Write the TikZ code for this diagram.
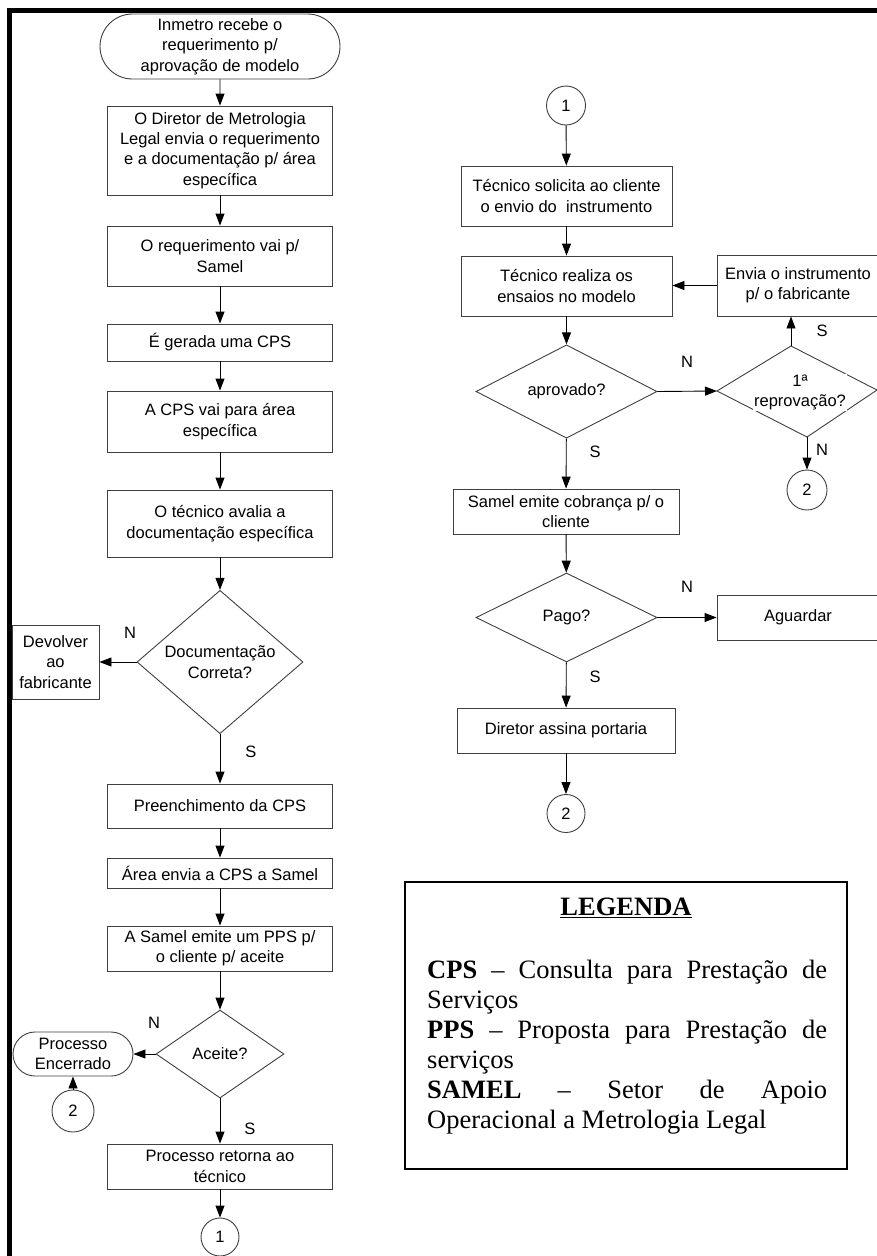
\documentclass[tikz,border=0pt]{standalone}
\usepackage{fontspec}
\setmainfont{Liberation Serif}
\newfontfamily\arialf{Liberation Sans}
\usetikzlibrary{shapes.geometric,shapes.misc,arrows.meta}
\hbadness=10000
\begin{document}
\begin{tikzpicture}[x=1pt,y=-1pt,
  every node/.style={font=\arialf\fontsize{16.5}{20.4}\selectfont},
  box/.style={draw=black!75, line width=0.9pt, inner sep=0pt, align=center, minimum width=225pt},
  term/.style={draw=black!75, line width=0.9pt, rounded rectangle, inner sep=0pt, align=center},
  dec/.style={draw=black!75, line width=0.9pt, diamond, inner sep=0pt, align=center},
  conn/.style={draw=black!75, line width=0.9pt, circle, inner sep=0pt},
  arr/.style={line width=0.9pt, -{Triangle[length=12pt,width=9pt]}},
  lbl/.style={inner sep=0pt}
]
\useasboundingbox (0,0) rectangle (877,1256);
\fill[white] (0,0) rectangle (877,1256);
\draw[line width=4.5pt] (9.5,1260) -- (9.5,10.5) -- (880,10.5);

% ---------- left column ----------
\node[term, minimum width=240pt, minimum height=65pt] (start) at (220,46.5) {Inmetro recebe o\\requerimento p/\\aprovação de modelo};
\node[box, minimum height=89pt] (b2) at (220,150.5) {O Diretor de Metrologia\\Legal envia o requerimento\\e a documentação p/ área\\específica};
\node[box, minimum height=60pt] (b3) at (220,256) {O requerimento vai p/\\Samel};
\node[box, minimum height=37pt] (b4) at (220,342.5) {É gerada uma CPS};
\node[box, minimum height=61pt] (b5) at (220,421.5) {A CPS vai para área\\específica};
\node[box, minimum height=67pt] (b6) at (220,523.5) {O técnico avalia a\\documentação específica};
\node[dec, minimum width=166pt, minimum height=134pt] (d1) at (220,662) {Documentação\\Correta?};
\node[box, minimum width=87pt, minimum height=74pt] (dev) at (55.5,662) {Devolver\\ao\\fabricante};
\node[box, minimum height=44pt] (b7) at (220,806) {Preenchimento da CPS};
\node[box, minimum height=30pt] (b8) at (220,873) {Área envia a CPS a Samel};
\node[box, minimum height=45pt] (b9) at (220,948.5) {A Samel emite um PPS p/\\o cliente p/ aceite};
\node[dec, minimum width=128pt, minimum height=88pt] (d2) at (220,1054) {Aceite?};
\node[term, minimum width=120pt, minimum height=44pt] (enc) at (73,1054) {Processo\\Encerrado};
\node[conn, minimum size=42pt] (c2L) at (73,1111) {2};
\node[box, minimum height=45pt] (b10) at (220,1166.5) {Processo retorna ao\\técnico};
\node[conn, minimum size=38pt] (c1L) at (220,1237) {1};

\draw[arr] (start) -- (b2);
\draw[arr] (b2) -- (b3);
\draw[arr] (b3) -- (b4);
\draw[arr] (b4) -- (b5);
\draw[arr] (b5) -- (b6);
\draw[arr] (b6) -- (d1);
\draw[arr] (d1.west) -- (dev.east);
\draw[arr] (d1) -- (b7);
\draw[arr] (b7) -- (b8);
\draw[arr] (b8) -- (b9);
\draw[arr] (b9) -- (d2);
\draw[arr] (d2.west) -- (enc.east);
\draw[arr] (c2L.north) -- (enc.south);
\draw[arr] (d2) -- (b10);
\draw[arr] (b10) -- (c1L);

\node[lbl] (n1) at (130,633) {N};
\node[lbl] (s1) at (251,752) {S};
\node[lbl] (n2) at (154,1023) {N};
\node[lbl] (s2) at (250,1129) {S};

% ---------- right column ----------
\node[conn, minimum size=39pt] (c1R) at (566,105.5) {1};
\node[box, minimum width=211pt, minimum height=60pt] (ts) at (566.5,196) {Técnico solicita ao cliente\\o envio do\ \ instrumento};
\node[box, minimum width=211pt, minimum height=60pt] (tr) at (566.5,286) {Técnico realiza os\\ensaios no modelo};
\node[box, minimum width=162pt, minimum height=61pt] (env) at (798,285.5) {Envia o instrumento\\p/ o fabricante};
\node[dec, minimum width=181pt, minimum height=89pt] (d3) at (566.5,391.5) {aprovado?};
\coordinate (ql) at (717,391);
\coordinate (qt) at (791,346);
\coordinate (qr) at (877,390);
\coordinate (qb) at (807,437);
\draw[draw=black!75, line width=0.9pt] (ql) -- (qt) -- (qr) -- (qb) -- cycle;
\node[lbl, fill=white, inner sep=1pt, align=center] (q1) at (800,392.5) {1ª\\reprovação?};
\node[conn, minimum size=40pt] (c2a) at (807,490) {2};
\node[box, minimum width=226pt, minimum height=45pt] (cob) at (566,511.5) {Samel emite cobrança p/ o\\cliente};
\node[dec, minimum width=181pt, minimum height=89pt] (d4) at (566.5,617.5) {Pago?};
\node[box, minimum width=162pt, minimum height=45pt] (agu) at (798,617.5) {Aguardar};
\node[box, minimum width=218pt, minimum height=45pt] (dir) at (566,730.5) {Diretor assina portaria};
\node[conn, minimum size=38pt] (c2b) at (566,813.5) {2};

\draw[arr] (c1R) -- (ts);
\draw[arr] (ts) -- (tr);
\draw[arr] (tr) -- (d3);
\draw[arr] (d3.east) -- (ql);
\draw[arr] (env.west) -- (env.west -| tr.east);
\draw[arr] (qt) -- (qt |- env.south);
\draw[arr] (qb) -- (c2a.north);
\draw[arr] (d3) -- (cob);
\draw[arr] (cob) -- (d4);
\draw[arr] (d4.east) -- (agu.west);
\draw[arr] (d4) -- (dir);
\draw[arr] (dir) -- (c2b);

\node[lbl] (n3) at (687,362) {N};
\node[lbl] (s3) at (822,331) {S};
\node[lbl] (n4) at (822,450) {N};
\node[lbl] (s4) at (595,452) {S};
\node[lbl] (n5) at (687,587) {N};
\node[lbl] (s5) at (595,677) {S};

% ---------- legend ----------
\node[draw=black, line width=1.5pt, minimum width=442pt, minimum height=287pt, inner sep=0pt] (leg) at (626,1025.5) {};
\node[inner sep=0pt, font=\rmfamily\bfseries\fontsize{26.5}{30}\selectfont] (legt) at (626,908) {\underline{LEGENDA}};
\node[inner sep=0pt, anchor=north west, text width=400pt, align=justify,
      font=\rmfamily\fontsize{26.5}{30}\selectfont] (legb) at (427,960)
  {\textbf{CPS} – Consulta para Prestação de\linebreak Serviços\par
   \textbf{PPS} – Proposta para Prestação de\linebreak serviços\par
   \textbf{SAMEL} – Setor de Apoio\linebreak Operacional a Metrologia Legal};
\end{tikzpicture}
\end{document}
